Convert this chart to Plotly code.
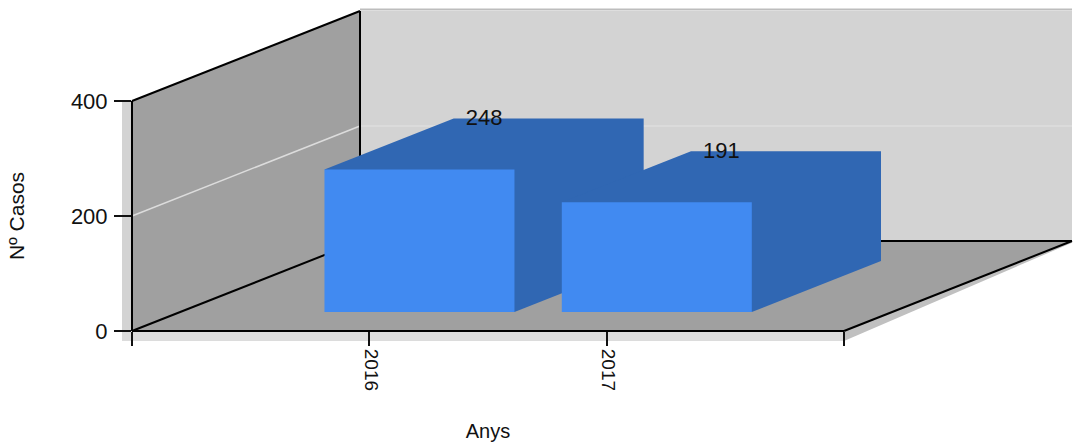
import plotly.graph_objects as go

categories = ["2016", "2017"]
casos = [248, 191]
y_ticks = [0, 200, 400]

W, H = 1073, 442
X_L, X_R, Y_T, Y_B = 132, 844, 101, 331
XMAX = 3
YMAX = 400
px_x = (X_R - X_L) / XMAX
px_y = (Y_B - Y_T) / YMAX
DX = 228 / px_x
DY = 90 / px_y
BAR_W = 190 / px_x
BAR_SHIFT = 2 / px_x
LABEL_DROP = 1.5 / px_y
D0, D1 = 19 / 90, 70 / 90

WALL = "#a0a0a0"
BACK = "#d3d3d3"
FRONT = "#418af1"
SIDE = "#3067b3"


def proj(x, y, d=0.0):
    return x + d * DX, y + d * DY


def poly(points, color):
    return go.Scatter(x=[p[0] for p in points] + [points[0][0]],
                      y=[p[1] for p in points] + [points[0][1]],
                      mode="lines", fill="toself", fillcolor=color,
                      line=dict(width=0, color=color), hoverinfo="skip",
                      showlegend=False)


def seg(points, color="#000000", width=2):
    return go.Scatter(x=[p[0] for p in points], y=[p[1] for p in points],
                      mode="lines", line=dict(color=color, width=width),
                      hoverinfo="skip", showlegend=False)


fig = go.Figure()
sx = 10 / px_x
sy = 10 / px_y

# outer strips
fig.add_trace(poly([(-sx, YMAX), (0, YMAX), (0, -sy), (-sx, -sy)], BACK))
fig.add_trace(poly([(-sx, 0), (XMAX, 0), (XMAX, -sy), (-sx, -sy)], "#dcdcdc"))
fig.add_trace(poly([proj(XMAX, 0), proj(XMAX, 0, 1), proj(XMAX, -3, 1), proj(XMAX, -sy)], "#c0c0c0"))

# walls and floor
fig.add_trace(poly([proj(0, 0, 1), proj(XMAX, 0, 1), proj(XMAX, YMAX, 1), proj(0, YMAX, 1)], BACK))
fig.add_trace(poly([proj(0, 0), proj(0, YMAX), proj(0, YMAX, 1), proj(0, 0, 1)], WALL))
fig.add_trace(poly([proj(0, 0), proj(XMAX, 0), proj(XMAX, 0, 1), proj(0, 0, 1)], WALL))

# gridline
for v in y_ticks[1:-1]:
    fig.add_trace(seg([proj(0, v), proj(0, v, 1)], "#dcdcdc", 1.5))
    fig.add_trace(seg([proj(0, v, 1), proj(XMAX, v, 1)], "#dedede", 1.5))
fig.add_trace(seg([proj(0, YMAX + 2.5, 1), proj(XMAX, YMAX + 2.5, 1)], "#bdbdbd", 2))

# edges
fig.add_trace(seg([proj(0, YMAX), proj(0, YMAX, 1)]))
fig.add_trace(seg([proj(0, YMAX, 1), proj(0, 0, 1)]))
fig.add_trace(seg([proj(0, 0), proj(0, 0, 1)]))
fig.add_trace(seg([proj(0, 0, 1), proj(XMAX, 0, 1)]))
fig.add_trace(seg([proj(XMAX, 0), proj(XMAX, 0, 1)]))
fig.add_trace(seg([proj(0, 0), proj(XMAX, 0)]))
fig.add_trace(seg([proj(0, 0), proj(0, YMAX)]))

# bars
label_x, label_y = [], []
for i, v in enumerate(casos):
    c = i + 1 + BAR_SHIFT
    l0, r0 = c - BAR_W / 2, c + BAR_W / 2
    fig.add_trace(poly([proj(l0, v, D0), proj(l0, v, D1), proj(r0, v, D1),
                        proj(r0, 0, D1), proj(r0, 0, D0)], SIDE))
    fig.add_trace(poly([proj(l0, 0, D0), proj(r0, 0, D0), proj(r0, v, D0), proj(l0, v, D0)], FRONT))
    label_x.append(proj(c, v, (D0 + D1) / 2)[0])
    label_y.append(proj(c, v, D1)[1] - LABEL_DROP)

# visible axes sit on their own subplot, with the same scale as the hidden full-page one
fig.add_trace(go.Scatter(x=label_x, y=label_y, xaxis="x2", yaxis="y2", mode="text",
                         text=[str(v) for v in casos],
                         textposition="middle center", cliponaxis=False,
                         textfont=dict(family="Liberation Sans", size=22, color="#111111"),
                         hoverinfo="skip", showlegend=False))

axis_font = dict(family="Liberation Sans", color="#111111")
fig.update_layout(
    width=W, height=H, margin=dict(l=0, r=0, t=0, b=0, autoexpand=False),
    paper_bgcolor="white", plot_bgcolor="rgba(0,0,0,0)", showlegend=False,
    xaxis=dict(domain=[0, 1], range=[-X_L / px_x, (W - X_L) / px_x], visible=False),
    yaxis=dict(domain=[0, 1], range=[-(H - Y_B) / px_y, Y_B / px_y], visible=False),
    xaxis2=dict(domain=[X_L / W, X_R / W], range=[0, XMAX], anchor="y2", tickmode="array",
                tickvals=[0, 1, 2, 3], ticktext=["", categories[0], categories[1], ""],
                tickangle=90, ticks="outside", ticklen=14, tickwidth=2, tickcolor="#111111",
                ticklabelstandoff=-1, ticklabelshift=2,
                tickfont=dict(size=19, **axis_font), showgrid=False, zeroline=False,
                showline=False, automargin=False,
                title=dict(text="Anys", font=dict(size=20, **axis_font), standoff=34)),
    yaxis2=dict(domain=[(H - Y_B) / H, (H - Y_T) / H], range=[0, YMAX], anchor="x2", tickmode="array",
                tickvals=y_ticks, ticks="outside", ticklen=17, tickwidth=2, tickcolor="#111111",
                ticklabelstandoff=2,
                tickfont=dict(size=22, **axis_font), showgrid=False, zeroline=False,
                showline=False, automargin=False,
                title=dict(text="Nº Casos", font=dict(size=21, **axis_font), standoff=40)),
)

fig.write_html("out.html", config=dict(displayModeBar=False),
               post_script="document.body.style.margin='0';")
